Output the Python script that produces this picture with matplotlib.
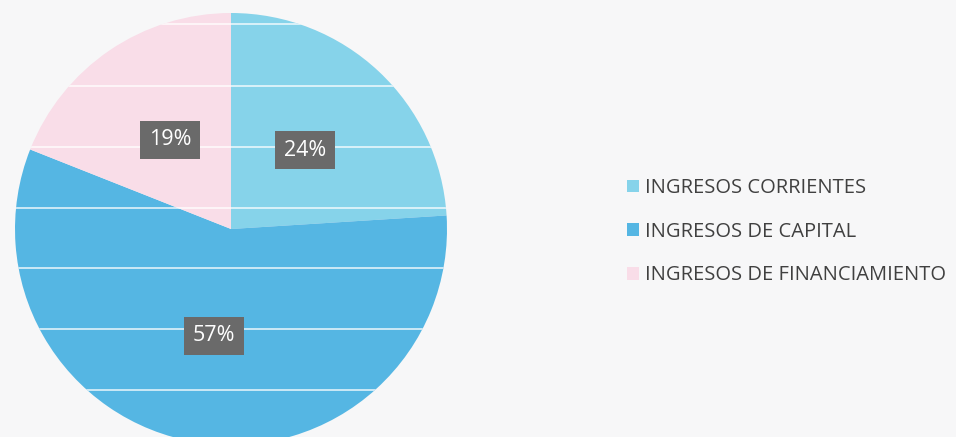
import numpy as np
import matplotlib.pyplot as plt
from matplotlib.patches import Circle

plt.rcParams['font.family'] = ['Open Sans', 'DejaVu Sans']

categorias = ['INGRESOS CORRIENTES', 'INGRESOS DE CAPITAL', 'INGRESOS DE FINANCIAMIENTO']
valores = [24, 57, 19]
colores = ['#86d3ea', '#55b6e3', '#f9dde8']

W, H = 956, 437
fig = plt.figure(figsize=(W / 100, H / 100), dpi=100, facecolor='#f7f7f8')

# pie centre ~ (231, 229) px from top, radius ~216 px
cx, cy, r = 231, H - 229, 216
ax = fig.add_axes([(cx - r) / W, (cy - r) / H, 2 * r / W, 2 * r / H])
ax.set_facecolor('none')

wedges, texts, autotexts = ax.pie(
    valores, colors=colores, startangle=90, counterclock=False,
    autopct='%1.0f%%', pctdistance=0.5,
    textprops=dict(color='white', fontsize=15.5),
    wedgeprops=dict(linewidth=0))
for t in autotexts:
    t.set_bbox(dict(boxstyle='square,pad=0.4', facecolor='#6a6a6a', edgecolor='none'))
ax.set_xlim(-1, 1)
ax.set_ylim(-1, 1)
ax.set_aspect('equal')

# faint white scan lines across the pie
clip = Circle((0, 0), 1, transform=ax.transData)
for yp in [24, 86, 147, 208, 268, 329, 390]:
    yv = (H - yp - cy) / r
    ln, = ax.plot([-1, 1], [yv, yv], color='white', lw=1.3, alpha=0.75, zorder=1.5)
    ln.set_clip_path(clip)
for t in autotexts:
    t.set_zorder(3)

fig.legend(wedges, categorias, loc='upper left', bbox_to_anchor=(609 / W, 1 - 160 / H),
           frameon=False, fontsize=14.5, handlelength=0.6, handleheight=0.6,
           handletextpad=0.3, labelspacing=1.17, labelcolor='#404040')

plt.savefig('out.png', dpi=100, facecolor=fig.get_facecolor())
